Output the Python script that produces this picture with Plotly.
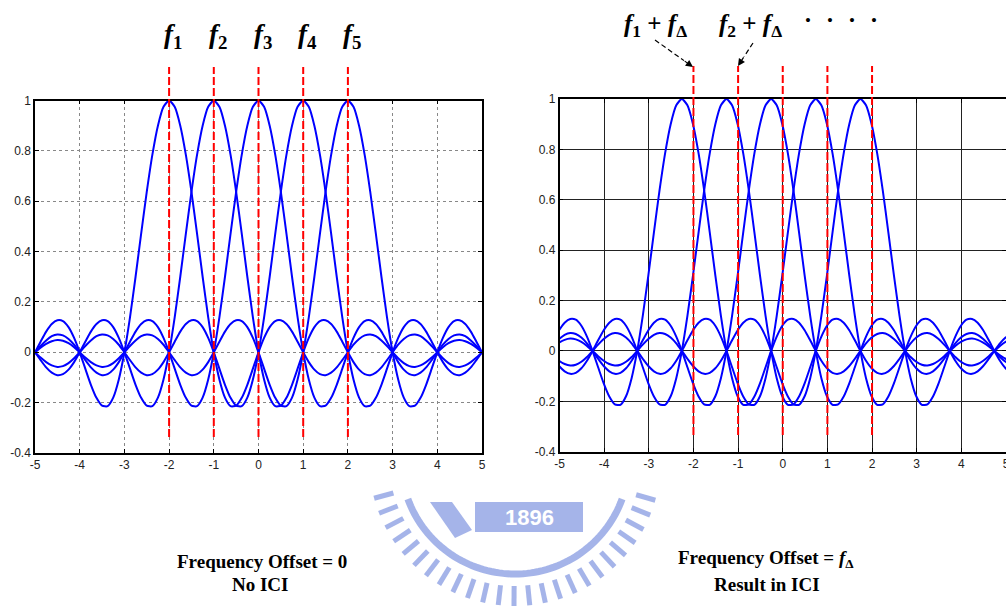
import math
import numpy as np
import plotly.graph_objects as go

# ---------------- data ----------------
SUBCARRIER_CENTERS = [-2, -1, 0, 1, 2]        # f1..f5 (normalised)
FREQ_OFFSET = -0.26                          # f_delta in right panel
PULSE_STEP = 0.125
# one-sided pulse shape (distance 0, 0.125, 0.25, ... 7.5 from the centre)
PULSE_HALF = [1.000, 0.975, 0.900, 0.784, 0.637, 0.471, 0.300, 0.139,
              0.000, -0.108, -0.180, -0.214, -0.212, -0.181, -0.129, -0.065,
              0.000, 0.057, 0.100, 0.124, 0.127, 0.112, 0.082, 0.042,
              0.000, -0.039, -0.069, -0.087, -0.091, -0.081, -0.060, -0.031,
              0.000, 0.030, 0.053, 0.067, 0.071, 0.064, 0.047, 0.025,
              0.000, -0.024, -0.043, -0.055, -0.058, -0.052, -0.039, -0.021,
              0.000, 0.020, 0.036, 0.046, 0.049, 0.044, 0.033, 0.018,
              0.000, -0.017, -0.031, -0.040, -0.042]
X_TICKS = [-5, -4, -3, -2, -1, 0, 1, 2, 3, 4, 5]
X_TICK_LABELS = ["-5", "-4", "-3", "-2", "-1", "0", "1", "2", "3", "4", "5"]
Y_TICKS = [-0.4, -0.2, 0, 0.2, 0.4, 0.6, 0.8, 1]
Y_TICK_LABELS = ["-0.4", "-0.2", "0", "0.2", "0.4", "0.6", "0.8", "1"]
TOP_LABELS = ["1", "2", "3", "4", "5"]

W, H = 1006, 608
def px(x): return x / W
def py(y): return 1 - y / H

# full symmetric pulse from the half table
pulse_y = PULSE_HALF[:0:-1] + PULSE_HALF
n = len(PULSE_HALF) - 1
pulse_dx = [PULSE_STEP * k for k in range(-n, n + 1)]

fig = go.Figure()
BLUE = "#0000ff"
for xa, ya, off in [("x", "y", 0.0), ("x2", "y2", FREQ_OFFSET)]:
    for c in SUBCARRIER_CENTERS:
        fig.add_trace(go.Scatter(
            x=[c + off + d for d in pulse_dx], y=pulse_y, mode="lines",
            line=dict(color=BLUE, width=2, shape="spline", smoothing=0.6),
            xaxis=xa, yaxis=ya, showlegend=False, hoverinfo="skip"))

tickfont = dict(family="Liberation Sans, Arial", size=12, color="#222")
common_x = dict(range=[-5, 5], tickvals=X_TICKS, ticktext=X_TICK_LABELS, ticks="inside",
                ticklen=4, tickcolor="black", showline=True, linecolor="black", linewidth=1.5,
                mirror="ticks", zeroline=False, tickfont=tickfont, showgrid=True, automargin=False,
                ticklabeloverflow="allow")
common_y = dict(range=[-0.4, 1], tickvals=Y_TICKS, ticktext=Y_TICK_LABELS, ticks="inside",
                ticklen=4, tickcolor="black", showline=True, linecolor="black", linewidth=1.5,
                mirror="ticks", zeroline=False, tickfont=tickfont, showgrid=True, automargin=False)

fig.update_layout(
    width=W, height=H, margin=dict(l=0, r=0, t=0, b=0, pad=0, autoexpand=False),
    paper_bgcolor="white", plot_bgcolor="white", showlegend=False,
    xaxis=dict(domain=[px(35), px(482)], anchor="y", gridcolor="#888", griddash="dot", gridwidth=1, **common_x),
    yaxis=dict(domain=[py(453), py(100.5)], anchor="x", gridcolor="#888", griddash="dot", gridwidth=1, **common_y),
    xaxis2=dict(domain=[px(559.5), 1.0], anchor="y2", gridcolor="#222", gridwidth=1, **common_x),
    yaxis2=dict(domain=[py(451.7), py(99)], anchor="x2", gridcolor="#222", gridwidth=1, **common_y),
)

# red dashed subcarrier markers
for c in SUBCARRIER_CENTERS:
    fig.add_shape(type="line", xref="x", yref="paper", x0=c, x1=c, y0=py(437), y1=py(67),
                  line=dict(color="red", width=2, dash="8px,3px"), layer="above")
    fig.add_shape(type="line", xref="x2", yref="paper", x0=c, x1=c, y0=py(435), y1=py(66),
                  line=dict(color="red", width=2, dash="8px,3px"), layer="above")

serif = "Liberation Serif, Times New Roman, serif"
def note(x, y, text, size, xref="paper", xanchor="center", **kw):
    fig.add_annotation(xref=xref, yref="paper", x=x, y=y, text=text, showarrow=False,
                       xanchor=xanchor, yanchor="middle",
                       font=dict(family=kw.pop("family", serif), size=size, color=kw.pop("color", "black")), **kw)

for c, lab in zip(SUBCARRIER_CENTERS, TOP_LABELS):
    note(c, py(36), f"<b><i>f</i><sub>{lab}</sub></b>", 27, xref="x", xshift=4)

note(px(655), py(25), "<b><i>f</i><sub>1</sub> + <i>f</i><sub>Δ</sub></b>", 25)
note(px(717), py(25), "<b><i>f</i><sub>2</sub> + <i>f</i><sub>Δ</sub></b>", 25, xanchor="left")
for dx in (808, 830, 852, 874):
    note(px(dx), py(21), "•", 17)

# dashed arrows
arrows = [((655, 40), (693, 67)), ((753, 43), (738, 66))]
for (tx, ty), (hx, hy) in arrows:
    vx, vy = hx - tx, hy - ty
    L = math.hypot(vx, vy)
    ux, uy = vx / L, vy / L
    sx, sy = hx - ux * 11, hy - uy * 11
    fig.add_shape(type="line", xref="paper", yref="paper", x0=px(tx), y0=py(ty), x1=px(sx), y1=py(sy),
                  line=dict(color="black", width=1.2, dash="5px,3px"))
    fig.add_annotation(xref="paper", yref="paper", x=px(hx), y=py(hy), ax=-ux * 12, ay=-uy * 12,
                       axref="pixel", ayref="pixel", text="", showarrow=True, arrowhead=2,
                       arrowsize=1.2, arrowwidth=1.2, arrowcolor="black", standoff=0)

# bottom captions
note(px(262), py(561), "<b>Frequency Offset = 0</b>", 19)
note(px(260), py(584), "<b>No ICI</b>", 19)
note(px(766), py(559), "<b>Frequency Offset = <i>f</i><sub>Δ</sub></b>", 19)
note(px(767), py(584), "<b>Result in ICI</b>", 19)

# faint university logo watermark
WM = "rgba(135,155,225,0.75)"
cx, cy = 515, 460
for deg in np.arange(16, 166, 6.2):
    a = math.radians(deg)
    fig.add_shape(type="line", xref="paper", yref="paper",
                  x0=px(cx + 126 * math.cos(a)), y0=py(cy + 126 * math.sin(a)),
                  x1=px(cx + 146 * math.cos(a)), y1=py(cy + 146 * math.sin(a)),
                  line=dict(color=WM, width=5), layer="below")
pts = [(cx + 114 * math.cos(math.radians(d)), cy + 114 * math.sin(math.radians(d)))
       for d in np.arange(20, 161, 2)]
path = "M " + " L ".join(f"{px(x):.5f},{py(y):.5f}" for x, y in pts)
fig.add_shape(type="path", xref="paper", yref="paper", path=path,
              line=dict(color=WM, width=7), layer="below")
fig.add_shape(type="rect", xref="paper", yref="paper", x0=px(475), x1=px(583), y0=py(532), y1=py(502),
              fillcolor=WM, line=dict(width=0), layer="below")
fig.add_shape(type="path", xref="paper", yref="paper",
              path=f"M {px(430)},{py(502)} L {px(452)},{py(502)} L {px(472)},{py(530)} L {px(455)},{py(538)} Z",
              fillcolor=WM, line=dict(width=0), layer="below")
note(px(529), py(517), "<b>1896</b>", 22, family="Liberation Sans, Arial", color="white")

fig.write_html("out.html", config={"displayModeBar": False},
               post_script="document.body.style.margin='0';document.body.style.padding='0';")
